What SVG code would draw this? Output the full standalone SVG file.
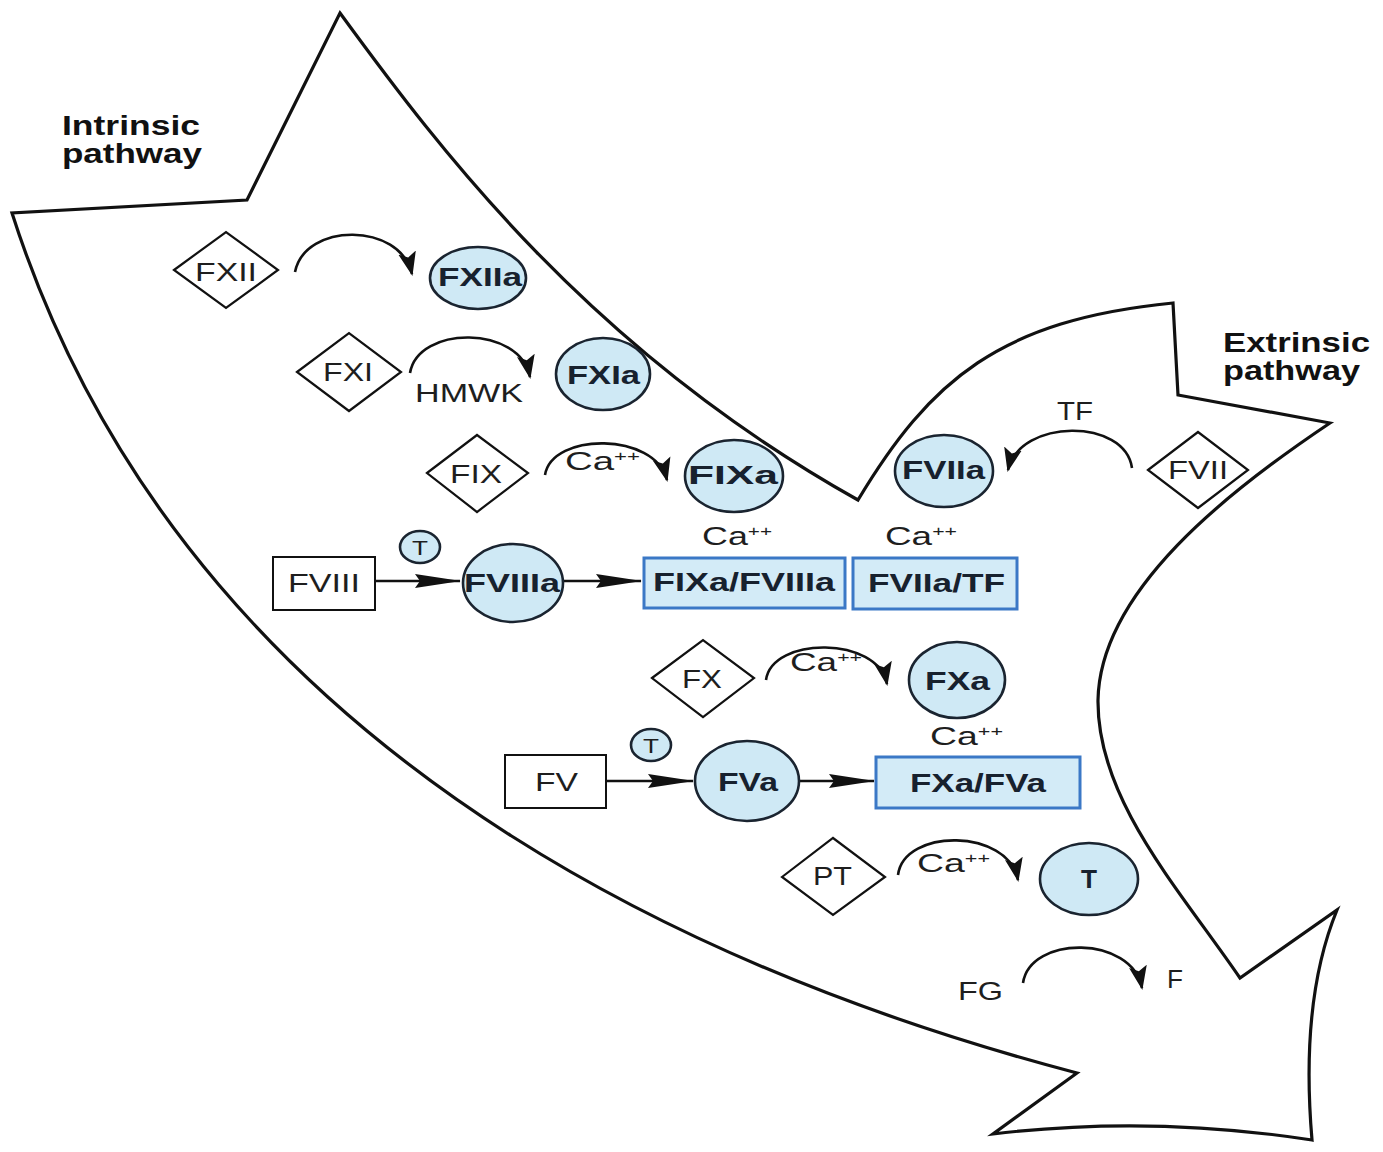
<svg xmlns="http://www.w3.org/2000/svg" width="1383" height="1152" viewBox="0 0 1383 1152">
<style>
.outline{fill:#fff;stroke:#111;stroke-width:3.2;stroke-linejoin:miter}
.dia{fill:#fff;stroke:#111;stroke-width:2.2}
.box{fill:#fff;stroke:#111;stroke-width:2}
.ell{fill:#cfe9f5;stroke:#1a2430;stroke-width:2.6}
.cplx{fill:#d3ebf7;stroke:#3b78c6;stroke-width:3}
.t{font-family:"Liberation Sans",Arial,sans-serif;font-size:26px;fill:#1e1e1e}
.tb{font-family:"Liberation Sans",Arial,sans-serif;font-size:26px;font-weight:bold;fill:#17212e}
.title{font-family:"Liberation Sans",Arial,sans-serif;font-size:27px;font-weight:bold;fill:#111}
.sup{font-size:15px}
.arc{fill:none;stroke:#111;stroke-width:2.6;marker-end:url(#ha)}
.str{fill:none;stroke:#111;stroke-width:2.4;marker-end:url(#hs)}
</style>
<defs>
<marker id="ha" markerUnits="userSpaceOnUse" markerWidth="24" markerHeight="20" viewBox="0 0 24 20" refX="22" refY="10" orient="auto">
<path d="M0,1 L24,10 L0,19 L5,10 Z" fill="#111"/>
</marker>
<marker id="hs" markerUnits="userSpaceOnUse" markerWidth="46" markerHeight="16" viewBox="0 0 46 16" refX="45" refY="8" orient="auto">
<path d="M0,1 L46,8 L0,15 L5,8 Z" fill="#111"/>
</marker>
</defs>
<rect width="1383" height="1152" fill="#fff"/>
<path class="outline" d="M340,13 C440,150 590,350 858,500 C930,380 1000,320 1173,303 L1178,395 L1330,423 C1230,490 1100,590 1098,700 C1097,800 1180,890 1240,978 L1337,910 Q1300,1000 1312,1140 Q1150,1115 993,1134 L1077,1073 C800,1000 200,800 12,213 L247,200 Z"/>
<text class="title" x="62" y="135" textLength="138" lengthAdjust="spacingAndGlyphs">Intrinsic</text>
<text class="title" x="62" y="163" textLength="140" lengthAdjust="spacingAndGlyphs">pathway</text>
<text class="title" x="1223" y="352" textLength="147" lengthAdjust="spacingAndGlyphs">Extrinsic</text>
<text class="title" x="1223" y="380" textLength="137" lengthAdjust="spacingAndGlyphs">pathway</text>
<g id="connectors">
<path class="arc" d="M295,272 C305,222 400,222 412,274"/>
<path class="arc" d="M410,373 C418,325 520,325 530,377"/>
<path class="arc" d="M545,475 C552,432 655,432 667,480"/>
<path class="arc" d="M1132,468 C1125,418 1020,418 1008,470"/>
<path class="arc" d="M766,680 C772,636 878,636 887,684"/>
<path class="arc" d="M898,875 C904,828 1008,828 1018,880"/>
<path class="arc" d="M1023,983 C1030,935 1132,935 1142,988"/>
<path class="str" d="M376,581 L460,581"/>
<path class="str" d="M564,581 L641,581"/>
<path class="str" d="M607,781 L693,781"/>
<path class="str" d="M800,781 L874,781"/>
</g>
<text class="t" x="415" y="402" textLength="108" lengthAdjust="spacingAndGlyphs">HMWK</text>
<text class="t" x="1057" y="420" textLength="36" lengthAdjust="spacingAndGlyphs">TF</text>
<text class="t" x="565" y="470" textLength="75" lengthAdjust="spacingAndGlyphs">Ca<tspan class="sup" dy="-9">++</tspan></text>
<text class="t" x="702" y="545" textLength="70" lengthAdjust="spacingAndGlyphs">Ca<tspan class="sup" dy="-9">++</tspan></text>
<text class="t" x="885" y="545" textLength="72" lengthAdjust="spacingAndGlyphs">Ca<tspan class="sup" dy="-9">++</tspan></text>
<text class="t" x="790" y="671" textLength="72" lengthAdjust="spacingAndGlyphs">Ca<tspan class="sup" dy="-9">++</tspan></text>
<text class="t" x="930" y="745" textLength="73" lengthAdjust="spacingAndGlyphs">Ca<tspan class="sup" dy="-9">++</tspan></text>
<text class="t" x="917" y="872" textLength="73" lengthAdjust="spacingAndGlyphs">Ca<tspan class="sup" dy="-9">++</tspan></text>
<text class="t" x="958" y="1000" textLength="45" lengthAdjust="spacingAndGlyphs">FG</text>
<text class="t" x="1167" y="988" textLength="16" lengthAdjust="spacingAndGlyphs">F</text>
<g id="FXII"><path class="dia" d="M174,270 L226,232 L278,270 L226,308 Z"/><text class="t" x="195" y="281" textLength="62" lengthAdjust="spacingAndGlyphs">FXII</text></g>
<g id="FXIIa"><ellipse class="ell" cx="478" cy="278" rx="48" ry="31"/><text class="tb" x="438" y="286" textLength="84" lengthAdjust="spacingAndGlyphs">FXIIa</text></g>
<g id="FXI"><path class="dia" d="M297,372 L349,333 L401,372 L349,411 Z"/><text class="t" x="323" y="381" textLength="50" lengthAdjust="spacingAndGlyphs">FXI</text></g>
<g id="FXIa"><ellipse class="ell" cx="603" cy="374" rx="47" ry="36"/><text class="tb" x="567" y="384" textLength="73" lengthAdjust="spacingAndGlyphs">FXIa</text></g>
<g id="FIX"><path class="dia" d="M427,473 L477,435 L528,473 L477,512 Z"/><text class="t" x="450" y="483" textLength="52" lengthAdjust="spacingAndGlyphs">FIX</text></g>
<g id="FIXa"><ellipse class="ell" cx="734" cy="476" rx="49" ry="36"/><text class="tb" x="688" y="484" textLength="90" lengthAdjust="spacingAndGlyphs">FIXa</text></g>
<g id="FVII"><path class="dia" d="M1148,470 L1198,432 L1248,470 L1198,508 Z"/><text class="t" x="1168" y="479" textLength="60" lengthAdjust="spacingAndGlyphs">FVII</text></g>
<g id="FVIIa"><ellipse class="ell" cx="944" cy="471" rx="49" ry="36"/><text class="tb" x="902" y="479" textLength="83" lengthAdjust="spacingAndGlyphs">FVIIa</text></g>
<g id="FVIII"><rect class="box" x="273" y="557" width="102" height="53"/><text class="t" x="288" y="592" textLength="72" lengthAdjust="spacingAndGlyphs">FVIII</text></g>
<g id="T1"><ellipse class="ell" cx="420" cy="547" rx="20" ry="16"/><text class="t" x="412" y="555" style="font-size:21px" textLength="16" lengthAdjust="spacingAndGlyphs">T</text></g>
<g id="FVIIIa"><ellipse class="ell" cx="513" cy="583" rx="50" ry="39"/><text class="tb" x="464" y="592" textLength="96" lengthAdjust="spacingAndGlyphs">FVIIIa</text></g>
<g id="FIXa-FVIIIa"><rect class="cplx" x="644" y="558" width="201" height="50"/><text class="tb" x="653" y="591" textLength="182" lengthAdjust="spacingAndGlyphs">FIXa/FVIIIa</text></g>
<g id="FVIIa-TF"><rect class="cplx" x="853" y="558" width="164" height="51"/><text class="tb" x="868" y="592" textLength="137" lengthAdjust="spacingAndGlyphs">FVIIa/TF</text></g>
<g id="FX"><path class="dia" d="M652,678 L703,640 L754,678 L703,717 Z"/><text class="t" x="682" y="688" textLength="40" lengthAdjust="spacingAndGlyphs">FX</text></g>
<g id="FXa"><ellipse class="ell" cx="957" cy="680" rx="48" ry="38"/><text class="tb" x="925" y="690" textLength="65" lengthAdjust="spacingAndGlyphs">FXa</text></g>
<g id="FV"><rect class="box" x="505" y="755" width="101" height="53"/><text class="t" x="535" y="791" textLength="43" lengthAdjust="spacingAndGlyphs">FV</text></g>
<g id="T2"><ellipse class="ell" cx="651" cy="745" rx="20" ry="16"/><text class="t" x="643" y="753" style="font-size:21px" textLength="16" lengthAdjust="spacingAndGlyphs">T</text></g>
<g id="FVa"><ellipse class="ell" cx="747" cy="781" rx="52" ry="40"/><text class="tb" x="718" y="791" textLength="60" lengthAdjust="spacingAndGlyphs">FVa</text></g>
<g id="FXa-FVa"><rect class="cplx" x="876" y="757" width="204" height="51"/><text class="tb" x="910" y="792" textLength="136" lengthAdjust="spacingAndGlyphs">FXa/FVa</text></g>
<g id="PT"><path class="dia" d="M782,877 L833,838 L885,877 L833,915 Z"/><text class="t" x="813" y="885" textLength="39" lengthAdjust="spacingAndGlyphs">PT</text></g>
<g id="T"><ellipse class="ell" cx="1089" cy="879" rx="49" ry="36"/><text class="tb" x="1081" y="888" textLength="16" lengthAdjust="spacingAndGlyphs">T</text></g>
</svg>
